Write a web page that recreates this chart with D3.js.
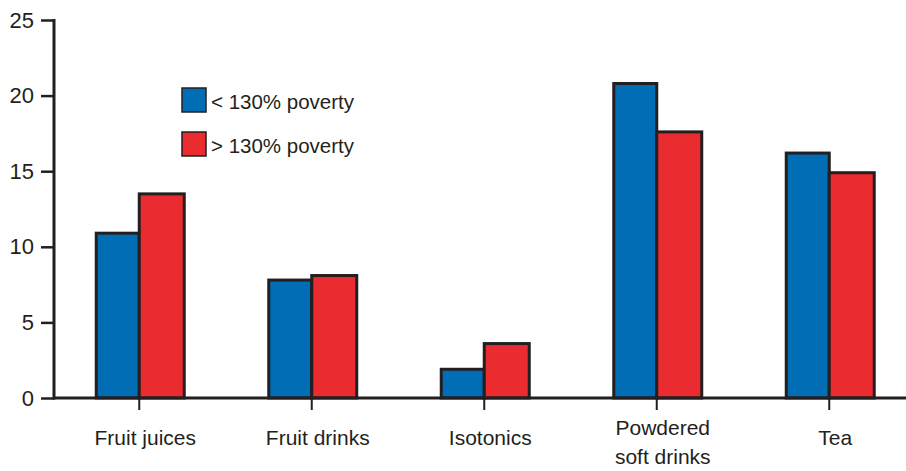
<!DOCTYPE html>
<html>
<head>
<meta charset="utf-8">
<script src="https://cdn.jsdelivr.net/npm/d3@7"></script>
<style>
  html, body { margin: 0; padding: 0; background: #fff; }
  svg { display: block; }
  text { font-family: "Liberation Sans", Arial, sans-serif; fill: #231f20; }
</style>
</head>
<body>
<svg id="chart" width="906" height="471"></svg>
<script>
const categories = ["Fruit juices", "Fruit drinks", "Isotonics", "Powdered soft drinks", "Tea"];
const categoryLines = [["Fruit juices"], ["Fruit drinks"], ["Isotonics"], ["Powdered", "soft drinks"], ["Tea"]];
const seriesNames = ["< 130% poverty", "> 130% poverty"];
const belowPoverty = [10.9, 7.8, 1.9, 20.8, 16.2];
const abovePoverty = [13.5, 8.1, 3.6, 17.6, 14.9];
const seriesColors = ["#006db5", "#ea2b2f"];
const yTicks = [0, 5, 10, 15, 20, 25];

const svg = d3.select("#chart");
const ink = "#231f20";

const x = d3.scaleBand().domain(categories).range([53, 915.5]);
const y = d3.scaleLinear().domain([0, 25]).range([398, 20]);

const barW = 44;
const series = [belowPoverty, abovePoverty];

// bars
series.forEach((vals, si) => {
  svg.append("g").selectAll("rect")
    .data(categories.map((c, i) => ({c, v: vals[i]})))
    .join("rect")
    .attr("x", d => x(d.c) + x.bandwidth() / 2 + (si === 0 ? -barW + 1 : 0))
    .attr("width", si === 0 ? barW - 1 : barW + 1)
    .attr("y", d => y(d.v))
    .attr("height", d => y(0) - y(d.v))
    .attr("fill", seriesColors[si])
    .attr("stroke", ink)
    .attr("stroke-width", 3);
});

// y axis
const yAxis = d3.axisLeft(y).tickValues(yTicks).tickSize(13).tickPadding(7);
const gy = svg.append("g").attr("transform", "translate(54,0)").call(yAxis);
gy.select(".domain").remove();
gy.selectAll(".tick line").attr("stroke", ink).attr("stroke-width", 2.5);
gy.selectAll(".tick text").attr("font-size", 22).attr("fill", ink)
  .attr("font-family", "'Liberation Sans', Arial, sans-serif");
svg.append("line").attr("x1", 54).attr("x2", 54).attr("y1", y(25) - 1).attr("y2", y(0) + 1.5)
  .attr("stroke", ink).attr("stroke-width", 3);

// x axis
svg.append("line").attr("x1", 53).attr("x2", 906).attr("y1", y(0)).attr("y2", y(0))
  .attr("stroke", ink).attr("stroke-width", 3);
const xAxis = d3.axisBottom(x).tickSize(12).tickFormat("");
const gx = svg.append("g").attr("transform", `translate(0,${y(0)})`).call(xAxis);
gx.select(".domain").remove();
gx.selectAll(".tick line").attr("stroke", ink).attr("stroke-width", 2);

// category labels
categories.forEach((c, i) => {
  const lines = categoryLines[i];
  const cx = x(c) + x.bandwidth() / 2 + 6;
  const t = svg.append("text")
    .attr("x", cx)
    .attr("text-anchor", "middle")
    .attr("font-size", 21);
  const y0 = lines.length === 1 ? 445 : 435;
  lines.forEach((ln, k) => {
    t.append("tspan").attr("x", cx).attr("y", y0 + k * 29).text(ln);
  });
});

// legend
const legend = svg.append("g");
seriesNames.forEach((name, i) => {
  const ly = 88 + i * 44;
  legend.append("rect").attr("x", 182).attr("y", ly).attr("width", 24).attr("height", 24)
    .attr("fill", seriesColors[i]).attr("stroke", ink).attr("stroke-width", 1.5);
  legend.append("text").attr("x", 211).attr("y", ly + 21).attr("font-size", 20.5).text(name);
});
</script>
</body>
</html>
